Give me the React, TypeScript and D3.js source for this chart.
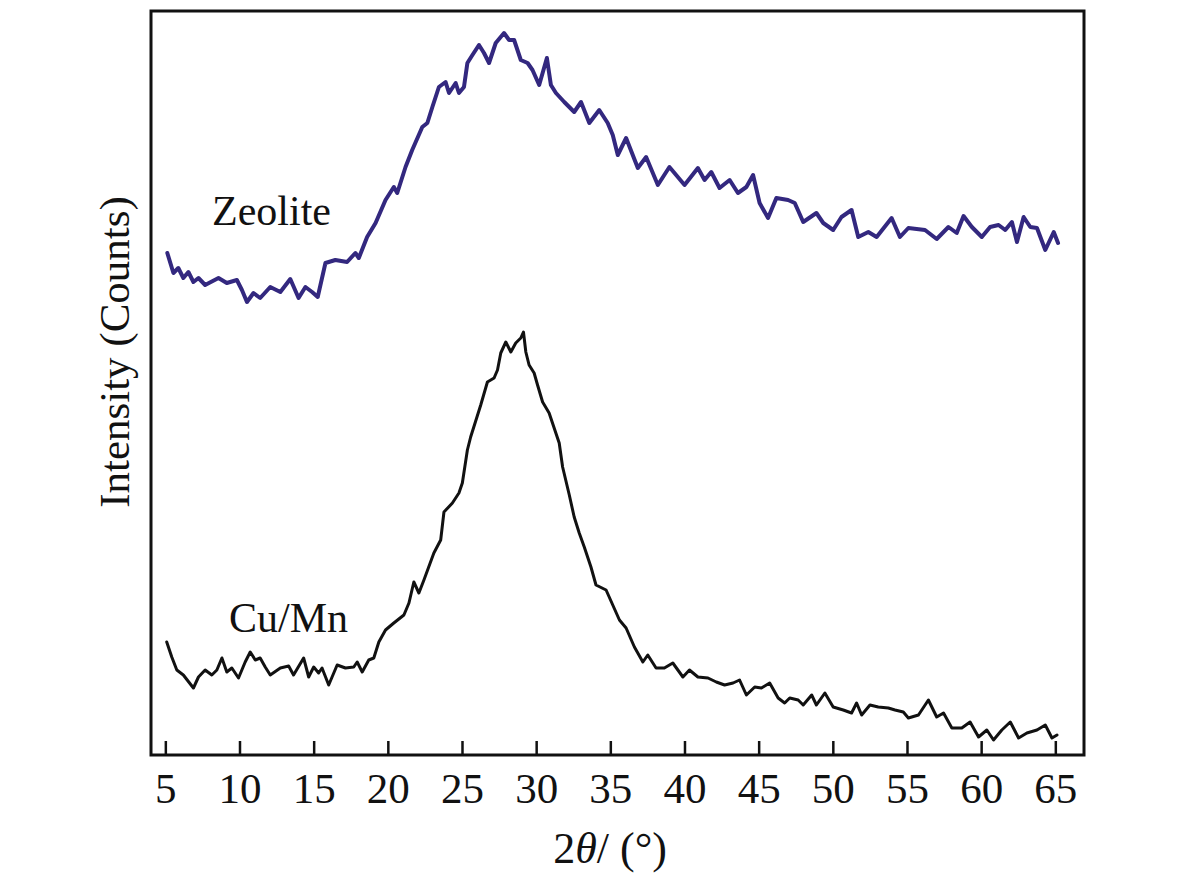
import React from 'react';
import * as d3 from 'd3';

// 2θ (degrees) and intensity (a.u.)
const zeoliteTheta = [
  5.1, 5.51, 5.84, 6.18, 6.52, 6.86, 7.2, 7.65, 8.55, 9.11, 9.79, 10.13, 10.47, 10.91, 11.36, 12.04,
  12.72, 13.39, 13.95, 14.41, 14.86, 15.24, 15.76, 16.43, 17.22, 17.78, 18.01, 18.57, 19.14, 19.81,
  20.37, 20.6, 21.16, 21.61, 22.29, 22.63, 22.97, 23.41, 23.86, 24.09, 24.54, 24.76, 25.1, 25.33,
  25.67, 26.11, 26.45, 26.79, 27.24, 27.8, 28.14, 28.48, 28.93, 29.39, 29.72, 30.17, 30.69, 30.96,
  31.3, 31.86, 32.53, 32.99, 33.55, 34.22, 34.79, 35.13, 35.47, 36.03, 36.82, 37.38, 38.17, 38.95,
  39.97, 40.87, 41.32, 41.77, 42.33, 43.01, 43.57, 44.14, 44.59, 45.03, 45.6, 46.16, 46.95, 47.4,
  47.97, 48.86, 49.32, 49.99, 50.55, 51.23, 51.68, 52.36, 52.92, 53.93, 54.49, 55.06, 56.18, 56.97,
  57.76, 58.32, 58.78, 59.34, 60.01, 60.57, 61.14, 61.59, 62.04, 62.38, 62.83, 63.28, 63.73, 64.29,
  64.86, 65.15,
];
const zeoliteCounts = [
  502, 482, 487, 477, 483, 473, 477, 470, 477, 472, 475, 465, 453, 462, 457, 468,
  463, 476, 457, 468, 463, 458, 492, 495, 493, 502, 497, 518, 532, 555,
  568, 562, 588, 605, 628, 632, 648, 668, 673, 662, 672, 662, 668, 692,
  700, 710, 702, 692, 712, 722, 715, 715, 695, 692, 685, 670, 697, 670,
  662, 653, 643, 653, 632, 645, 632, 620, 600, 617, 587, 598, 570, 588,
  570, 587, 575, 583, 567, 575, 562, 568, 580, 552, 537, 557, 555, 552,
  533, 542, 532, 525, 538, 545, 518, 523, 518, 537, 518, 527, 525, 516,
  528, 522, 539, 528, 518, 528, 530, 525, 533, 513, 538, 528, 527, 505,
  523, 512,
];

const cuMnTheta = [
  5.06, 5.4, 5.74, 6.18, 6.86, 7.2, 7.65, 8.1, 8.44, 8.78, 9.11, 9.45, 9.9, 10.35, 10.69, 11.03,
  11.36, 11.7, 12.04, 12.72, 13.28, 13.61, 14.29, 14.63, 14.97, 15.3, 15.53, 15.98, 16.55, 17.11,
  17.67, 17.9, 18.24, 18.68, 19.02, 19.36, 19.81, 20.37, 21.05, 21.39, 21.72, 22.06, 22.4, 23.07,
  23.53, 23.75, 24.32, 24.76, 24.99, 25.33, 25.55, 26.23, 26.68, 27.13, 27.36, 27.58, 27.92, 28.26,
  28.59, 28.93, 29.11, 29.27, 29.49, 29.83, 30.06, 30.4, 30.84, 31.52, 31.75, 32.2, 32.53, 32.87,
  33.21, 33.66, 34.0, 34.68, 35.13, 35.58, 36.03, 36.59, 37.16, 37.49, 38.05, 38.61, 39.18, 39.86,
  40.3, 40.87, 41.55, 42.11, 42.67, 43.24, 43.68, 44.14, 44.7, 45.15, 45.71, 46.28, 46.72, 47.06,
  47.63, 47.97, 48.54, 48.86, 49.43, 49.99, 50.67, 51.23, 51.57, 51.91, 52.47, 53.03, 53.71, 54.16,
  54.72, 55.06, 55.74, 56.41, 56.97, 57.43, 57.99, 58.66, 59.22, 59.79, 60.35, 60.8, 61.36, 61.93,
  62.49, 63.05, 63.73, 64.29, 64.74, 65.08,
];
const cuMnCounts = [
  113, 98, 85, 80, 67, 78, 85, 80, 85, 97, 83, 87, 77, 93, 103, 95,
  97, 88, 80, 87, 89, 80, 97, 78, 88, 82, 87, 70, 90, 87,
  88, 93, 83, 95, 97, 113, 125, 132, 140, 152, 173, 162, 175, 202,
  215, 243, 252, 262, 272, 305, 318, 350, 373, 377, 385, 402, 413, 403,
  412, 417, 423, 403, 390, 382, 370, 353, 342, 312, 288, 260, 238, 222,
  208, 188, 170, 165, 150, 135, 127, 108, 93, 100, 87, 87, 92, 78,
  85, 78, 77, 73, 70, 72, 75, 60, 68, 67, 72, 57, 52, 57,
  55, 50, 60, 50, 62, 48, 45, 42, 52, 40, 50, 48, 47, 45,
  43, 37, 40, 55, 38, 42, 27, 27, 33, 18, 25, 15, 25, 33,
  17, 22, 25, 30, 17, 20,
];

const xTicks = [5, 10, 15, 20, 25, 30, 35, 40, 45, 50, 55, 60, 65];

const FONT = '"Liberation Serif", "Times New Roman", serif';

const App: React.FC = () => {
  const left = 151;
  const right = 1084;
  const top = 11;
  const bottom = 755;

  const x = d3.scaleLinear().domain([4, 66.9]).range([left, right]);
  const y = d3.scaleLinear().domain([0, 744]).range([bottom, top]);

  const line = d3
    .line<[number, number]>()
    .x((d) => x(d[0]))
    .y((d) => y(d[1]));

  const zeolite = zeoliteTheta.map((t, i) => [t, zeoliteCounts[i]] as [number, number]);
  const cuMn = cuMnTheta.map((t, i) => [t, cuMnCounts[i]] as [number, number]);

  return (
    <svg
      width={1200}
      height={886}
      style={{ position: 'absolute', left: 0, top: 0, background: '#fff' }}
      fontFamily={FONT}
    >
      <path
        d={line(zeolite) || ''}
        fill="none"
        stroke="#33287f"
        strokeWidth={4}
        strokeLinejoin="round"
        strokeLinecap="round"
      />
      <path
        d={line(cuMn) || ''}
        fill="none"
        stroke="#111"
        strokeWidth={3}
        strokeLinejoin="round"
        strokeLinecap="round"
      />

      {/* frame */}
      <rect x={left} y={top} width={right - left} height={bottom - top} fill="none" stroke="#111" strokeWidth={3} />

      {/* inward ticks on the bottom axis */}
      {xTicks.map((t) => (
        <g key={t}>
          <line x1={x(t)} x2={x(t)} y1={bottom} y2={bottom - 14} stroke="#111" strokeWidth={2.5} />
          <text x={x(t)} y={803} textAnchor="middle" fontSize={43} fill="#111">
            {t}
          </text>
        </g>
      ))}

      <text x={212} y={225} fontSize={42} fill="#111">Zeolite</text>
      <text x={229} y={632} fontSize={42} fill="#111">Cu/Mn</text>

      <text x={610} y={863} textAnchor="middle" fontSize={44} fill="#111">
        2<tspan fontStyle="italic">θ</tspan>/ (°)
      </text>
      <text
        transform="translate(129,352) rotate(-90)"
        textAnchor="middle"
        fontSize={43}
        fill="#111"
      >
        Intensity (Counts)
      </text>
    </svg>
  );
};

export default App;
